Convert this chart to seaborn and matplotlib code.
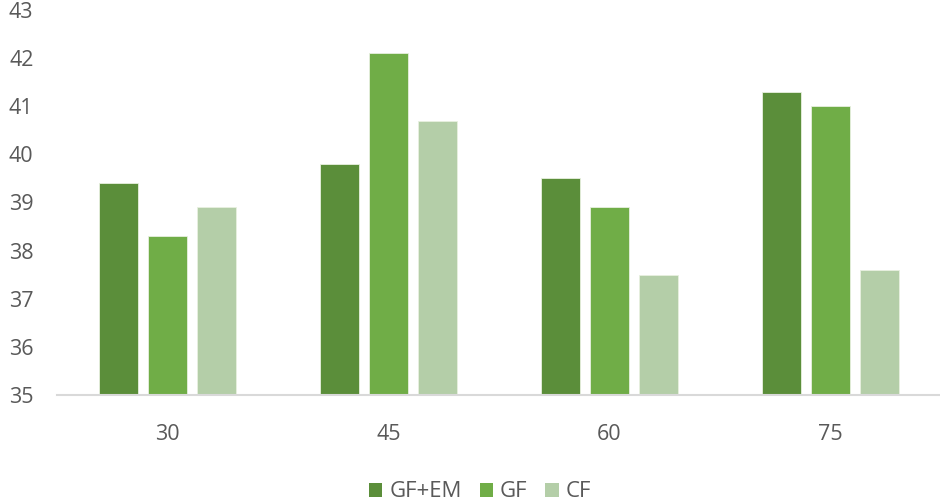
import pandas as pd
import numpy as np
import matplotlib.pyplot as plt
import seaborn as sns
from matplotlib.patches import Patch

# categories and series
categories = ['30', '45', '60', '75']
series = ['GF+EM', 'GF', 'CF']
gf_em = [39.4, 39.8, 39.5, 41.3]
gf = [38.3, 42.1, 38.9, 41.0]
cf = [38.9, 40.7, 37.5, 37.6]
colors = ['#5B8E3A', '#70AD47', '#B4CEA8']

df = pd.DataFrame({'cat': categories * 3,
                   'series': [s for s in series for _ in categories],
                   'value': gf_em + gf + cf})

sns.set_theme(style='white')
plt.rcParams['font.family'] = ['Open Sans', 'DejaVu Sans']

fig = plt.figure(figsize=(9.4, 5.04), dpi=100)
ax = fig.add_axes([57 / 940, 109 / 504, 884 / 940, 385 / 504])

sns.barplot(data=df, x='cat', y='value', hue='series', palette=colors,
            saturation=1, width=0.665, gap=0.21, ax=ax, legend=False,
            edgecolor='#e8f0e0', linewidth=0.6)

# bars start at the bottom of the axis (35)
for p in ax.patches:
    h = p.get_height()
    p.set_y(35)
    p.set_height(h - 35)

ax.set_ylim(35, 43)
ax.set_yticks(range(35, 44))
ax.set_xlim(-0.5, 3.5)
ax.set_xlabel('')
ax.set_ylabel('')
for s in ['top', 'right', 'left']:
    ax.spines[s].set_visible(False)
ax.spines['bottom'].set_color('#D9D9D9')
ax.spines['bottom'].set_linewidth(1.5)
ax.tick_params(axis='both', length=0, labelsize=15.5, labelcolor='#595959')
ax.tick_params(axis='x', pad=21)
ax.tick_params(axis='y', pad=17)

handles = [Patch(facecolor=c, edgecolor='none') for c in colors]
fig.legend(handles, series, loc='center', bbox_to_anchor=(480 / 940, 0.024),
           ncol=3, frameon=False, fontsize=16, labelcolor='#595959',
           handlelength=0.6, handleheight=0.6, handletextpad=0.32,
           columnspacing=0.8, borderpad=0.1)

fig.savefig('out.png', dpi=100)
